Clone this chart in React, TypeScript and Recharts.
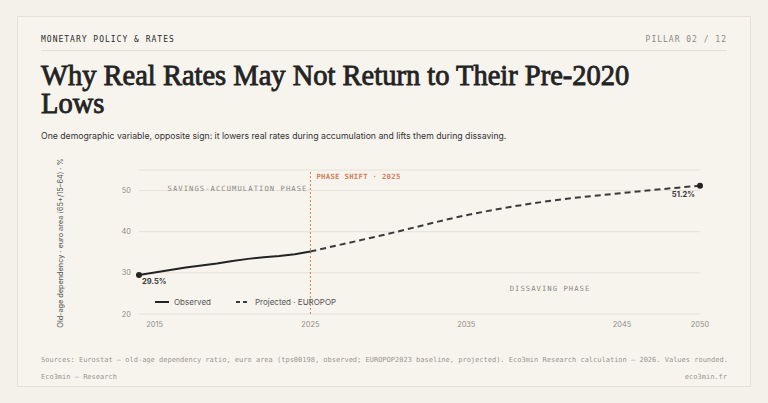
import React from 'react';
import {
  LineChart, Line, XAxis, YAxis, CartesianGrid, ReferenceLine, ReferenceArea, ReferenceDot,
} from 'recharts';

// Old-age dependency ratio, euro area (%)
const observedYears = [2014, 2015, 2016, 2017, 2018, 2019, 2020, 2021, 2022, 2023, 2024, 2025];
const observedValues = [29.5, 30.1, 30.7, 31.3, 31.8, 32.3, 32.9, 33.4, 33.8, 34.1, 34.5, 35.2];
const projectedYears = [2025, 2030, 2035, 2040, 2045, 2050];
const projectedValues = [35.2, 39.5, 44.0, 47.3, 49.4, 51.2];
const xTicks = [2015, 2025, 2035, 2045, 2050];
const yTicks = [20, 30, 40, 50];
const phaseShiftYear = 2025;

const observed = observedYears.map((year, i) => ({ year, value: observedValues[i] }));
const projected = projectedYears.map((year, i) => ({ year, value: projectedValues[i] }));
const first = observed[0];
const last = projected[projected.length - 1];

const SANS = 'Inter, "Noto Sans", sans-serif';
const MONO = '"DejaVu Sans Mono", "Liberation Mono", monospace';
const SERIF = '"Liberation Serif", serif';
const INK = '#232323';
const ACCENT = '#d2805c';

const PhaseLabel = ({ viewBox, text, at, dy }: any) => {
  if (!viewBox) return null;
  const x = at === 'end' ? viewBox.x + viewBox.width - 3 : viewBox.x + viewBox.width * 0.615;
  return (
    <text x={x} y={viewBox.y + dy} textAnchor={at === 'end' ? 'end' : 'middle'}
      fontFamily={MONO} fontSize={7.2} letterSpacing={1.05} fill="#8b8882">
      {text}
    </text>
  );
};

const ShiftLabel = ({ viewBox }: any) => {
  if (!viewBox) return null;
  return (
    <text x={viewBox.x + 6} y={viewBox.y + 8.5} fontFamily={MONO} fontSize={7.2} letterSpacing={0.35}
      fontWeight={700} fill={ACCENT}>
      PHASE SHIFT · {phaseShiftYear}
    </text>
  );
};

const ValueLabel = ({ viewBox, text, anchor }: any) => {
  if (!viewBox) return null;
  const cx = viewBox.cx ?? viewBox.x;
  const cy = viewBox.cy ?? viewBox.y;
  return (
    <text x={anchor === 'start' ? cx + 6 : cx - 2} y={anchor === 'start' ? cy + 12 : cy + 14} textAnchor={anchor}
      fontFamily={SANS} fontSize={7.6} fontWeight={700} fill="#3a3a3a">
      {text}
    </text>
  );
};

export default function App() {
  return (
    <div style={{ position: 'absolute', left: 0, top: 0, width: 768, height: 403, background: '#f4f1ea', overflow: 'hidden' }}>
      <div style={{ position: 'absolute', left: 17, top: 16, width: 732, height: 369, background: '#f7f4ee', border: '1px solid #e7e2d7' }} />

      <div style={{ position: 'absolute', left: 41, top: 35, fontFamily: MONO, fontSize: 8, letterSpacing: 1, color: '#2b2b2b' }}>
        MONETARY POLICY &amp; RATES
      </div>
      <div style={{ position: 'absolute', right: 41, top: 35, fontFamily: MONO, fontSize: 8, letterSpacing: 1, color: '#8b8882' }}>
        PILLAR 02 / 12
      </div>
      <div style={{ position: 'absolute', left: 41, top: 50, width: 686, height: 1, background: '#e4dfd3' }} />

      <div style={{ position: 'absolute', left: 41, top: 61.5, width: 615, fontFamily: SERIF, fontSize: 28.5, lineHeight: '28px', fontWeight: 400, WebkitTextStroke: '0.85px #232323', color: INK } as any}>
        Why Real Rates May Not Return to Their Pre-2020 Lows
      </div>
      <div style={{ position: 'absolute', left: 41, top: 131, fontFamily: SANS, fontSize: 8.7, color: '#333' }}>
        One demographic variable, opposite sign: it lowers real rates during accumulation and lifts them during dissaving.
      </div>

      <div style={{ position: 'absolute', left: 0, top: 0 }}>
        <LineChart width={768} height={403} margin={{ top: 170, right: 68, bottom: 59, left: 59 }}>
          <CartesianGrid vertical={false} stroke="#e6e2d9" strokeWidth={1} />
          <XAxis dataKey="year" type="number" domain={[2014, 2050]} ticks={xTicks} height={30}
            axisLine={false} tickLine={false} allowDuplicatedCategory={false}
            tick={{ fontFamily: SANS, fontSize: 7.4, fill: '#8f8c86' }} />
          <YAxis type="number" domain={[20, 55]} ticks={yTicks} width={80}
            axisLine={false} tickLine={false}
            tick={{ fontFamily: SANS, fontSize: 7.4, fill: '#8f8c86' }}
            label={{
              content: ({ viewBox }: any) => (
                <text x={viewBox.x + 4} y={viewBox.y + viewBox.height / 2 + 1} transform={`rotate(-90 ${viewBox.x + 4} ${viewBox.y + viewBox.height / 2 + 1})`}
                  textAnchor="middle" fontFamily={SANS} fontSize={7.3} fill="#555">
                  Old-age dependency · euro area (65+/15–64) · %
                </text>
              ),
            }} />
          <ReferenceArea x1={first.year} x2={phaseShiftYear} fill="none" fillOpacity={0} stroke="none" ifOverflow="visible"
            label={<PhaseLabel text="SAVINGS-ACCUMULATION PHASE" at="end" dy={20.5} />} />
          <ReferenceArea x1={phaseShiftYear} x2={last.year} fill="none" fillOpacity={0} stroke="none" ifOverflow="visible"
            label={<PhaseLabel text="DISSAVING PHASE" at="mid" dy={120.5} />} />
          <ReferenceLine x={phaseShiftYear} stroke={ACCENT} strokeDasharray="2 2" strokeWidth={1} label={<ShiftLabel />} />
          <Line data={observed} dataKey="value" type="linear" stroke={INK} strokeWidth={2} dot={false} isAnimationActive={false} />
          <Line data={projected} dataKey="value" type="monotone" stroke="#3a3a3a" strokeWidth={2} strokeDasharray="6 4" dot={false} isAnimationActive={false} />
          <ReferenceDot x={first.year} y={first.value} r={3} fill={INK} stroke="none"
            label={<ValueLabel text={`${first.value.toFixed(1)}%`} anchor="start" />} />
          <ReferenceDot x={last.year} y={last.value} r={3} fill={INK} stroke="none"
            label={<ValueLabel text={`${last.value.toFixed(1)}%`} anchor="end" />} />
        </LineChart>
      </div>

      <div style={{ position: 'absolute', left: 155, top: 297, display: 'flex', alignItems: 'center', fontFamily: SANS, fontSize: 8, color: '#555' }}>
        <svg width={14} height={4}><line x1={0} y1={2} x2={14} y2={2} stroke={INK} strokeWidth={2} /></svg>
        <span style={{ marginLeft: 5 }}>Observed</span>
        <svg width={14} height={4} style={{ marginLeft: 25 }}><line x1={0} y1={2} x2={14} y2={2} stroke="#3a3a3a" strokeWidth={2} strokeDasharray="4 3" /></svg>
        <span style={{ marginLeft: 5 }}>Projected · EUROPOP</span>
      </div>

      <div style={{ position: 'absolute', left: 41, top: 356, fontFamily: MONO, fontSize: 7, color: '#9a968f', whiteSpace: 'nowrap' }}>
        Sources: Eurostat — old-age dependency ratio, euro area (tps00198, observed; EUROPOP2023 baseline, projected). Eco3min Research calculation — 2026. Values rounded.
      </div>
      <div style={{ position: 'absolute', left: 41, top: 373, fontFamily: MONO, fontSize: 7, color: '#9a968f' }}>
        Eco3min — Research
      </div>
      <div style={{ position: 'absolute', right: 41, top: 373, fontFamily: MONO, fontSize: 7, color: '#9a968f' }}>
        eco3min.fr
      </div>
    </div>
  );
}
